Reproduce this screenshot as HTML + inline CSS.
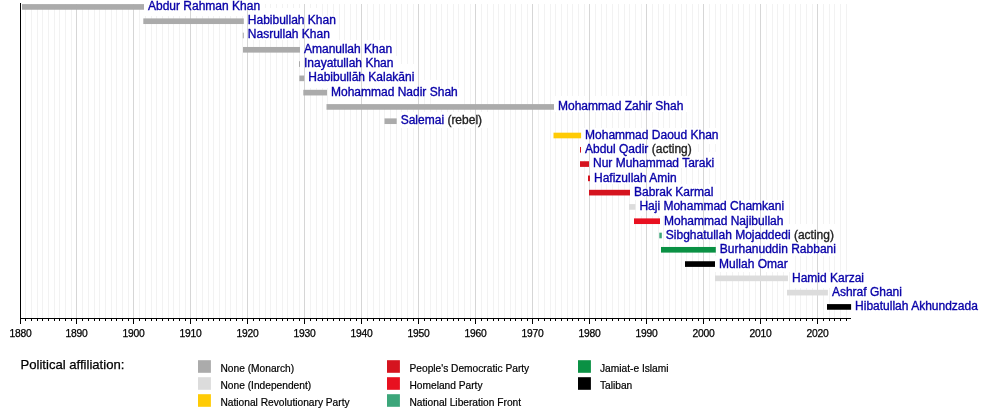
<!DOCTYPE html>
<html lang="en"><head><meta charset="utf-8"><title>Timeline</title>
<style>html,body{margin:0;padding:0;background:#fff}svg{display:block}</style></head>
<body>
<svg width="1000" height="418" viewBox="0 0 1000 418">
<rect width="1000" height="418" fill="#fff"/>
<path d="M25.5 4V318.5M31.5 4V318.5M37.5 4V318.5M42.5 4V318.5M48.5 4V318.5M54.5 4V318.5M59.5 4V318.5M65.5 4V318.5M71.5 4V318.5M82.5 4V318.5M88.5 4V318.5M94.5 4V318.5M99.5 4V318.5M105.5 4V318.5M111.5 4V318.5M116.5 4V318.5M122.5 4V318.5M128.5 4V318.5M139.5 4V318.5M145.5 4V318.5M151.5 4V318.5M156.5 4V318.5M162.5 4V318.5M168.5 4V318.5M173.5 4V318.5M179.5 4V318.5M185.5 4V318.5M196.5 4V318.5M202.5 4V318.5M208.5 4V318.5M213.5 4V318.5M219.5 4V318.5M225.5 4V318.5M230.5 4V318.5M236.5 4V318.5M242.5 4V318.5M253.5 4V318.5M259.5 4V318.5M265.5 4V318.5M270.5 4V318.5M276.5 4V318.5M282.5 4V318.5M287.5 4V318.5M293.5 4V318.5M299.5 4V318.5M310.5 4V318.5M316.5 4V318.5M322.5 4V318.5M327.5 4V318.5M333.5 4V318.5M339.5 4V318.5M344.5 4V318.5M350.5 4V318.5M356.5 4V318.5M367.5 4V318.5M373.5 4V318.5M379.5 4V318.5M384.5 4V318.5M390.5 4V318.5M396.5 4V318.5M401.5 4V318.5M407.5 4V318.5M413.5 4V318.5M424.5 4V318.5M430.5 4V318.5M436.5 4V318.5M441.5 4V318.5M447.5 4V318.5M453.5 4V318.5M458.5 4V318.5M464.5 4V318.5M470.5 4V318.5M481.5 4V318.5M487.5 4V318.5M493.5 4V318.5M498.5 4V318.5M504.5 4V318.5M510.5 4V318.5M515.5 4V318.5M521.5 4V318.5M527.5 4V318.5M538.5 4V318.5M544.5 4V318.5M550.5 4V318.5M555.5 4V318.5M561.5 4V318.5M567.5 4V318.5M572.5 4V318.5M578.5 4V318.5M584.5 4V318.5M595.5 4V318.5M601.5 4V318.5M606.5 4V318.5M612.5 4V318.5M618.5 4V318.5M624.5 4V318.5M629.5 4V318.5M635.5 4V318.5M641.5 4V318.5M652.5 4V318.5M658.5 4V318.5M663.5 4V318.5M669.5 4V318.5M675.5 4V318.5M681.5 4V318.5M686.5 4V318.5M692.5 4V318.5M698.5 4V318.5M709.5 4V318.5M715.5 4V318.5M720.5 4V318.5M726.5 4V318.5M732.5 4V318.5M738.5 4V318.5M743.5 4V318.5M749.5 4V318.5M755.5 4V318.5M766.5 4V318.5M772.5 4V318.5M777.5 4V318.5M783.5 4V318.5M789.5 4V318.5M795.5 4V318.5M800.5 4V318.5M806.5 4V318.5M812.5 4V318.5M823.5 4V318.5M829.5 4V318.5M834.5 4V318.5M840.5 4V318.5M846.5 4V318.5" stroke="#F2F2F2" stroke-width="1" fill="none"/>
<path d="M144 0h120v8h-120zM144 8h176v8h-176zM248 16h88v8h-88zM248 24h88v8h-88zM248 32h88v8h-88zM304 40h88v8h-88zM304 48h88v8h-88zM304 56h96v8h-96zM304 64h112v8h-112zM304 72h112v8h-112zM304 80h136v8h-136zM448 80h8v8h-8zM328 88h136v8h-136zM328 96h96v8h-96zM432 96h32v8h-32zM552 96h136v8h-136zM552 104h136v8h-136zM400 112h88v8h-88zM400 120h88v8h-88zM584 128h136v8h-136zM584 136h136v8h-136zM584 144h112v8h-112zM584 152h136v8h-136zM592 160h128v8h-128zM592 168h88v8h-88zM592 176h88v8h-88zM632 184h88v8h-88zM632 192h88v8h-88zM640 200h144v8h-144zM640 208h144v8h-144zM664 216h120v8h-120zM664 224h176v8h-176zM664 232h176v8h-176zM680 240h16v8h-16zM720 240h120v8h-120zM720 248h120v8h-120zM712 256h80v8h-80zM712 264h80v8h-80zM792 272h72v8h-72zM792 280h96v8h-96zM896 280h8v8h-8zM832 288h72v8h-72zM832 296h152v8h-152zM848 304h136v8h-136z" fill="#fff"/>
<path d="M76.5 4V318.5M133.5 4V318.5M190.5 4V318.5M247.5 4V318.5M304.5 4V318.5M361.5 4V318.5M418.5 4V318.5M475.5 4V318.5M532.5 4V318.5M589.5 4V318.5M646.5 4V318.5M703.5 4V318.5M760.5 4V318.5M817.5 4V318.5" stroke="#D6D6D6" stroke-width="1" fill="none"/>
<rect x="22.0" y="4.10" width="122.0" height="5.65" fill="#ABABAB"/>
<rect x="143.3" y="18.39" width="100.5" height="5.65" fill="#ABABAB"/>
<rect x="242.8" y="32.67" width="1.0" height="5.65" fill="#ABABAB"/>
<rect x="243.0" y="46.96" width="57.0" height="5.65" fill="#ABABAB"/>
<rect x="299.0" y="61.24" width="1.0" height="5.65" fill="#ABABAB"/>
<rect x="299.3" y="75.53" width="5.0" height="5.65" fill="#ABABAB"/>
<rect x="303.3" y="89.81" width="23.7" height="5.65" fill="#ABABAB"/>
<rect x="326.5" y="104.10" width="227.5" height="5.65" fill="#ABABAB"/>
<rect x="384.5" y="118.39" width="12.2" height="5.65" fill="#ABABAB"/>
<rect x="553.5" y="132.67" width="27.6" height="5.65" fill="#FFCB05"/>
<rect x="580.0" y="146.96" width="1.0" height="5.65" fill="#D5141F"/>
<rect x="580.0" y="161.24" width="9.0" height="5.65" fill="#D5141F"/>
<rect x="588.0" y="175.53" width="2.0" height="5.65" fill="#D5141F"/>
<rect x="589.0" y="189.81" width="41.0" height="5.65" fill="#D5141F"/>
<rect x="629.0" y="204.10" width="6.4" height="5.65" fill="#DCDCDC"/>
<rect x="634.0" y="218.39" width="26.0" height="5.65" fill="#E81020"/>
<rect x="659.3" y="232.67" width="2.5" height="5.65" fill="#3CA67A"/>
<rect x="661.0" y="246.96" width="54.8" height="5.65" fill="#0A9144"/>
<rect x="685.0" y="261.24" width="30.0" height="5.65" fill="#000000"/>
<rect x="715.0" y="275.53" width="73.0" height="5.65" fill="#DCDCDC"/>
<rect x="787.0" y="289.81" width="40.9" height="5.65" fill="#DCDCDC"/>
<rect x="827.0" y="304.10" width="24.1" height="5.65" fill="#000000"/>
<path d="M20.5 3V319.0" stroke="#000" stroke-width="1"/>
<path d="M20.0 318.5H851" stroke="#000" stroke-width="1"/>
<path d="M20.5 318.5v5.5M25.5 318.5v2.5M31.5 318.5v2.5M37.5 318.5v2.5M42.5 318.5v2.5M48.5 318.5v2.5M54.5 318.5v2.5M59.5 318.5v2.5M65.5 318.5v2.5M71.5 318.5v2.5M76.5 318.5v5.5M82.5 318.5v2.5M88.5 318.5v2.5M94.5 318.5v2.5M99.5 318.5v2.5M105.5 318.5v2.5M111.5 318.5v2.5M116.5 318.5v2.5M122.5 318.5v2.5M128.5 318.5v2.5M133.5 318.5v5.5M139.5 318.5v2.5M145.5 318.5v2.5M151.5 318.5v2.5M156.5 318.5v2.5M162.5 318.5v2.5M168.5 318.5v2.5M173.5 318.5v2.5M179.5 318.5v2.5M185.5 318.5v2.5M190.5 318.5v5.5M196.5 318.5v2.5M202.5 318.5v2.5M208.5 318.5v2.5M213.5 318.5v2.5M219.5 318.5v2.5M225.5 318.5v2.5M230.5 318.5v2.5M236.5 318.5v2.5M242.5 318.5v2.5M247.5 318.5v5.5M253.5 318.5v2.5M259.5 318.5v2.5M265.5 318.5v2.5M270.5 318.5v2.5M276.5 318.5v2.5M282.5 318.5v2.5M287.5 318.5v2.5M293.5 318.5v2.5M299.5 318.5v2.5M304.5 318.5v5.5M310.5 318.5v2.5M316.5 318.5v2.5M322.5 318.5v2.5M327.5 318.5v2.5M333.5 318.5v2.5M339.5 318.5v2.5M344.5 318.5v2.5M350.5 318.5v2.5M356.5 318.5v2.5M361.5 318.5v5.5M367.5 318.5v2.5M373.5 318.5v2.5M379.5 318.5v2.5M384.5 318.5v2.5M390.5 318.5v2.5M396.5 318.5v2.5M401.5 318.5v2.5M407.5 318.5v2.5M413.5 318.5v2.5M418.5 318.5v5.5M424.5 318.5v2.5M430.5 318.5v2.5M436.5 318.5v2.5M441.5 318.5v2.5M447.5 318.5v2.5M453.5 318.5v2.5M458.5 318.5v2.5M464.5 318.5v2.5M470.5 318.5v2.5M475.5 318.5v5.5M481.5 318.5v2.5M487.5 318.5v2.5M493.5 318.5v2.5M498.5 318.5v2.5M504.5 318.5v2.5M510.5 318.5v2.5M515.5 318.5v2.5M521.5 318.5v2.5M527.5 318.5v2.5M532.5 318.5v5.5M538.5 318.5v2.5M544.5 318.5v2.5M550.5 318.5v2.5M555.5 318.5v2.5M561.5 318.5v2.5M567.5 318.5v2.5M572.5 318.5v2.5M578.5 318.5v2.5M584.5 318.5v2.5M589.5 318.5v5.5M595.5 318.5v2.5M601.5 318.5v2.5M606.5 318.5v2.5M612.5 318.5v2.5M618.5 318.5v2.5M624.5 318.5v2.5M629.5 318.5v2.5M635.5 318.5v2.5M641.5 318.5v2.5M646.5 318.5v5.5M652.5 318.5v2.5M658.5 318.5v2.5M663.5 318.5v2.5M669.5 318.5v2.5M675.5 318.5v2.5M681.5 318.5v2.5M686.5 318.5v2.5M692.5 318.5v2.5M698.5 318.5v2.5M703.5 318.5v5.5M709.5 318.5v2.5M715.5 318.5v2.5M720.5 318.5v2.5M726.5 318.5v2.5M732.5 318.5v2.5M738.5 318.5v2.5M743.5 318.5v2.5M749.5 318.5v2.5M755.5 318.5v2.5M760.5 318.5v5.5M766.5 318.5v2.5M772.5 318.5v2.5M777.5 318.5v2.5M783.5 318.5v2.5M789.5 318.5v2.5M795.5 318.5v2.5M800.5 318.5v2.5M806.5 318.5v2.5M812.5 318.5v2.5M817.5 318.5v5.5M823.5 318.5v2.5M829.5 318.5v2.5M834.5 318.5v2.5M840.5 318.5v2.5M846.5 318.5v2.5" stroke="#000" stroke-width="1" fill="none"/>
<g font-family="'Liberation Sans', sans-serif" font-size="10.3" fill="#000" stroke="#000" stroke-width="0.25" text-anchor="middle" letter-spacing="-0.25">
<text x="20.5" y="337">1880</text>
<text x="76.5" y="337">1890</text>
<text x="133.5" y="337">1900</text>
<text x="190.5" y="337">1910</text>
<text x="247.5" y="337">1920</text>
<text x="304.5" y="337">1930</text>
<text x="361.5" y="337">1940</text>
<text x="418.5" y="337">1950</text>
<text x="475.5" y="337">1960</text>
<text x="532.5" y="337">1970</text>
<text x="589.5" y="337">1980</text>
<text x="646.5" y="337">1990</text>
<text x="703.5" y="337">2000</text>
<text x="760.5" y="337">2010</text>
<text x="817.5" y="337">2020</text>
</g>
<g font-family="'Liberation Sans', sans-serif" font-size="12" fill="#0800A8" stroke="#0800A8" stroke-width="0.35">
<text x="148.0" y="9.7">Abdur Rahman Khan</text>
<text x="247.8" y="24.0">Habibullah Khan</text>
<text x="247.8" y="38.3">Nasrullah Khan</text>
<text x="304.0" y="52.7">Amanullah Khan</text>
<text x="304.0" y="67.0">Inayatullah Khan</text>
<text x="308.3" y="81.3">Habibullāh Kalakāni</text>
<text x="331.0" y="95.6">Mohammad Nadir Shah</text>
<text x="558.0" y="109.9">Mohammad Zahir Shah</text>
<text x="400.7" y="124.3">Salemai<tspan fill="#222" stroke="#222"> (rebel)</tspan></text>
<text x="585.1" y="138.6">Mohammad Daoud Khan</text>
<text x="585.0" y="152.9">Abdul Qadir<tspan fill="#222" stroke="#222"> (acting)</tspan></text>
<text x="593.0" y="167.2">Nur Muhammad Taraki</text>
<text x="594.0" y="181.5">Hafizullah Amin</text>
<text x="634.0" y="195.9">Babrak Karmal</text>
<text x="639.4" y="210.2">Haji Mohammad Chamkani</text>
<text x="664.0" y="224.5">Mohammad Najibullah</text>
<text x="665.8" y="238.8">Sibghatullah Mojaddedi<tspan fill="#222" stroke="#222"> (acting)</tspan></text>
<text x="719.8" y="253.1">Burhanuddin Rabbani</text>
<text x="719.0" y="267.5">Mullah Omar</text>
<text x="792.0" y="281.8">Hamid Karzai</text>
<text x="831.9" y="296.1">Ashraf Ghani</text>
<text x="855.1" y="310.4">Hibatullah Akhundzada</text>
</g>
<text x="20.5" y="369" font-family="'Liberation Sans', sans-serif" font-size="13.1" fill="#000" stroke="#000" stroke-width="0.25">Political affiliation:</text>
<g font-family="'Liberation Sans', sans-serif" font-size="10.2" fill="#000" stroke="#000" stroke-width="0.2">
<rect x="198" y="360.2" width="12.9" height="12.6" fill="#ABABAB" stroke="none"/>
<text x="220.5" y="371.8">None (Monarch)</text>
<rect x="198" y="377.2" width="12.9" height="12.6" fill="#DCDCDC" stroke="none"/>
<text x="220.5" y="388.8">None (Independent)</text>
<rect x="198" y="394.2" width="12.9" height="12.6" fill="#FFCB05" stroke="none"/>
<text x="220.5" y="405.8">National Revolutionary Party</text>
<rect x="387" y="360.2" width="12.9" height="12.6" fill="#D5141F" stroke="none"/>
<text x="409.5" y="371.8">People's Democratic Party</text>
<rect x="387" y="377.2" width="12.9" height="12.6" fill="#E81020" stroke="none"/>
<text x="409.5" y="388.8">Homeland Party</text>
<rect x="387" y="394.2" width="12.9" height="12.6" fill="#3CA67A" stroke="none"/>
<text x="409.5" y="405.8">National Liberation Front</text>
<rect x="578" y="360.2" width="12.9" height="12.6" fill="#0A9144" stroke="none"/>
<text x="600" y="371.8">Jamiat-e Islami</text>
<rect x="578" y="377.2" width="12.9" height="12.6" fill="#000000" stroke="none"/>
<text x="600" y="388.8">Taliban</text>
</g>
</svg>
</body></html>
